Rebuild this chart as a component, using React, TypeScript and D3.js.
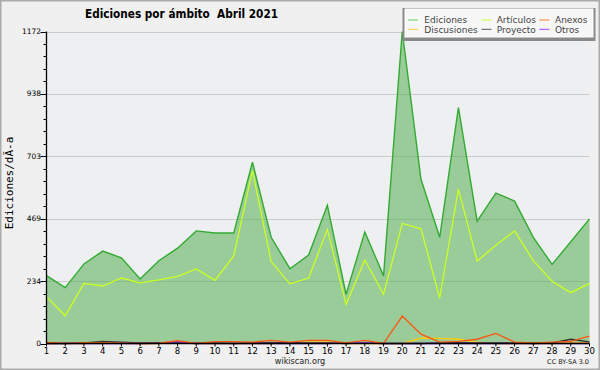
import React from "react";
import * as d3 from "d3";

const days = d3.range(1, 31);
const ediciones = [255, 210, 299, 347, 322, 242, 311, 358, 423, 415, 415, 681, 399, 281, 332, 519, 185, 419, 254, 1172, 617, 399, 886, 460, 565, 535, 399, 297, 382, 468];
const articulos = [176, 104, 226, 216, 246, 228, 239, 252, 280, 237, 329, 649, 307, 224, 246, 429, 147, 314, 185, 451, 431, 171, 580, 310, 369, 423, 311, 234, 191, 226];
const anexos = [4, 0, 3, 2, 1, 0, 1, 11, 0, 7, 7, 5, 12, 5, 12, 12, 2, 12, 0, 103, 35, 5, 8, 16, 38, 5, 2, 5, 8, 28];
const discusiones = [0, 0, 0, 5, 2, 0, 0, 5, 0, 0, 0, 0, 0, 2, 5, 5, 0, 0, 0, 0, 20, 19, 16, 5, 0, 0, 0, 0, 3, 3];
const proyecto = [0, 0, 2, 8, 5, 2, 3, 3, 0, 2, 0, 2, 3, 3, 2, 2, 0, 2, 0, 0, 0, 2, 3, 2, 2, 2, 0, 2, 16, 6];
const otros = [0, 0, 0, 0, 0, 0, 1, 7, 0, 0, 0, 0, 0, 0, 0, 0, 2, 2, 0, 0, 0, 0, 0, 0, 0, 0, 0, 0, 0, 0];
const yMax = 1172;
const yTickLabels = ["0", "234", "469", "703", "938", "1172"];

const title = "Ediciones por ámbito  Abril 2021";
const yTitle = "Ediciones/dÃ-a";

const legendItems = [
  { name: "Ediciones", color: "#66cc66" },
  { name: "Discusiones", color: "#ffcc33" },
  { name: "Artículos", color: "#ccff33" },
  { name: "Proyecto", color: "#555555" },
  { name: "Anexos", color: "#ff7733" },
  { name: "Otros", color: "#9944ff" },
];

export default function App() {
  const W = 600, H = 370;
  const x = d3.scaleLinear().domain([1, 30]).range([46.5, 589.5]);
  const y = d3.scaleLinear().domain([0, yMax]).range([343.5, 31.5]);
  const line = d3.line<number>().x((_, i) => x(days[i])).y((v) => y(v));
  const area = d3.area<number>().x((_, i) => x(days[i])).y0(y(0)).y1((v) => y(v));
  const majors = d3.range(0, 6).map((i) => (i * yMax) / 5);
  const minors = d3.range(0, 26).map((i) => (i * yMax) / 25);
  const smallSeries = [
    { data: discusiones, color: "#ffcc00" },
    { data: proyecto, color: "#333333" },
    { data: otros, color: "#8833ff" },
    { data: anexos, color: "#ff5511" },
  ];
  const legendCols = [408, 481.5, 539.3];
  const legendTextX = [424.3, 496.7, 555];
  const legendRows = [20, 29.3];
  return (
    <svg width={W} height={H} style={{ position: "absolute", left: 0, top: 0 }} fontFamily="DejaVu Sans">
      <rect x={0} y={0} width={W} height={H} fill="#f0f0f0" />
      <rect x={0.75} y={0.75} width={W - 1.5} height={H - 1.5} fill="none" stroke="#aaaaaa" strokeWidth={1.5} />
      <rect x={x(1)} y={y(yMax)} width={x(30) - x(1)} height={y(0) - y(yMax)} fill="#eeeff1" />
      {majors.slice(1).map((v, i) => (
        <line key={"g" + i} x1={x(1)} x2={x(30)} y1={Math.round(y(v)) + 0.5} y2={Math.round(y(v)) + 0.5} stroke="#cccccc" strokeWidth={1} />
      ))}
      <path d={area(ediciones) || ""} fill="rgb(68,169,65)" fillOpacity={0.5} />
      <path d={line(ediciones) || ""} fill="none" stroke="#33aa33" strokeWidth={1.4} />
      <path d={line(articulos) || ""} fill="none" stroke="#ccff22" strokeWidth={1.3} />
      {smallSeries.map((s, i) => (
        <path key={"s" + i} d={line(s.data) || ""} fill="none" stroke={s.color} strokeWidth={1.3} />
      ))}
      {/* axes */}
      <line x1={x(1)} x2={x(1)} y1={y(yMax)} y2={y(0)} stroke="#000" strokeWidth={1.3} />
      <line x1={x(1)} x2={x(30)} y1={y(0)} y2={y(0)} stroke="#000" strokeWidth={1.3} />
      {minors.map((v, i) => (
        <line key={"m" + i} x1={x(1) - 3} x2={x(1)} y1={Math.round(y(v)) + 0.5} y2={Math.round(y(v)) + 0.5} stroke="#000" strokeWidth={1} />
      ))}
      {majors.map((v, i) => (
        <g key={"t" + i}>
          <line x1={x(1) - 6} x2={x(1)} y1={Math.round(y(v)) + 0.5} y2={Math.round(y(v)) + 0.5} stroke="#000" strokeWidth={1} />
          <text x={x(1) - 5.5} y={y(v) + 2.5} fontSize={7.5} textAnchor="end" fill="#000">{yTickLabels[i]}</text>
        </g>
      ))}
      {days.map((d) => (
        <g key={"x" + d}>
          <line x1={x(d)} x2={x(d)} y1={y(0)} y2={y(0) + 3} stroke="#000" strokeWidth={1} />
          <text x={x(d)} y={354} fontSize={9.5} fontFamily="DejaVu Sans Condensed" textAnchor="middle" fill="#000">{d}</text>
        </g>
      ))}
      <text x={85} y={18.3} fontSize={12} fontWeight="bold" fontFamily="DejaVu Sans Condensed" fill="#000" style={{ whiteSpace: "pre" }} textLength={193} lengthAdjust="spacingAndGlyphs">{title}</text>
      <text transform={`translate(12.5,183) rotate(-90)`} fontSize={11} fontFamily="DejaVu Sans Mono" textAnchor="middle" fill="#000">{yTitle}</text>
      <text x={300} y={364} fontSize={9} fontFamily="DejaVu Sans Condensed" textAnchor="middle" fill="#222">wikiscan.org</text>
      <text x={589} y={364} fontSize={6.5} textAnchor="end" fill="#222">CC BY-SA 3.0</text>
      {/* legend */}
      <rect x={402.5} y={8} width={193} height={33} fill="#8a8a8a" />
      <rect x={404.5} y={8.5} width={189} height={29} fill="#ffffff" />
      <rect x={405.5} y={9.5} width={187} height={27} fill="#f7f7f7" />
      {legendItems.map((it, i) => {
        const col = Math.floor(i / 2), row = i % 2;
        return (
          <g key={"l" + i}>
            <line x1={legendCols[col]} x2={legendCols[col] + 10} y1={legendRows[row]} y2={legendRows[row]} stroke={it.color} strokeWidth={1} />
            <text x={legendTextX[col]} y={legendRows[row] + 3.2} fontSize={9} fill="#444">{it.name}</text>
          </g>
        );
      })}
    </svg>
  );
}
